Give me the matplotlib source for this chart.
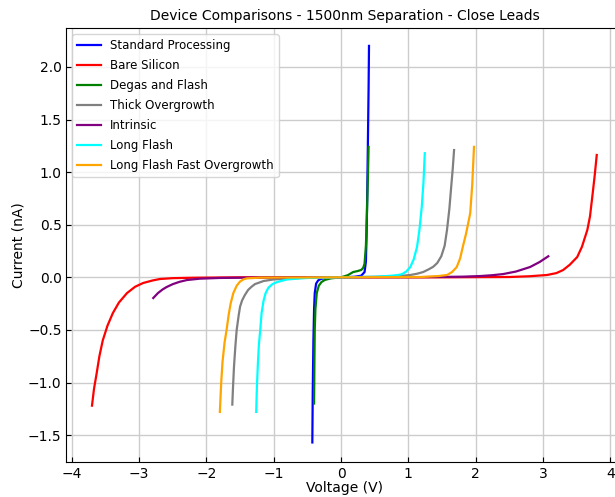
import matplotlib
matplotlib.use("Agg")
import matplotlib.pyplot as plt

# I-V curves (voltage in V, current in nA)
std_v = [-0.426, -0.42, -0.41, -0.40, -0.39, -0.37, -0.34, -0.3, -0.2, 0.0,
         0.2, 0.3, 0.35, 0.37, 0.38, 0.39, 0.40, 0.41, 0.416]
std_i = [-1.57, -1.1, -0.6, -0.3, -0.15, -0.06, -0.03, -0.015, -0.005, 0.0,
         0.005, 0.015, 0.05, 0.15, 0.4, 0.8, 1.3, 1.8, 2.2]

bare_v = [-3.70, -3.67, -3.63, -3.59, -3.54, -3.47, -3.39, -3.30, -3.18, -3.06, -2.94, -2.8,
          -2.69, -2.5, -2.2, -1.5, 0.0, 1.5, 2.5, 2.8, 3.06, 3.2, 3.30, 3.40, 3.51, 3.58,
          3.66, 3.70, 3.74, 3.77, 3.80]
bare_i = [-1.22, -1.06, -0.91, -0.75, -0.60, -0.46, -0.34, -0.24, -0.15, -0.09, -0.054, -0.03,
          -0.016, -0.008, -0.004, 0.0, 0.0, 0.0, 0.003, 0.01, 0.022, 0.04, 0.069, 0.12, 0.193,
          0.29, 0.45, 0.58, 0.80, 0.97, 1.163]

degas_v = [-0.40, -0.395, -0.39, -0.38, -0.36, -0.33, -0.29, -0.24, -0.15, 0.0, 0.1, 0.18,
           0.25, 0.30, 0.33, 0.35, 0.37, 0.385, 0.40, 0.41]
degas_i = [-1.20, -0.8, -0.5, -0.3, -0.15, -0.08, -0.045, -0.025, -0.01, 0.0, 0.02, 0.05,
           0.06, 0.07, 0.09, 0.13, 0.3, 0.6, 0.95, 1.24]

thick_v = [-1.615, -1.605, -1.59, -1.57, -1.55, -1.52, -1.50, -1.47, -1.43, -1.38, -1.33, -1.28,
           -1.15, -1.0, -0.6, 0.0, 0.6, 0.9, 1.03, 1.13, 1.22, 1.30, 1.37, 1.43, 1.49, 1.54,
           1.575, 1.61, 1.64, 1.66, 1.68]
thick_i = [-1.21, -1.05, -0.85, -0.66, -0.5, -0.36, -0.28, -0.22, -0.17, -0.12, -0.09, -0.065,
           -0.035, -0.02, -0.006, 0.0, 0.006, 0.014, 0.022, 0.034, 0.05, 0.075, 0.10, 0.136, 0.2,
           0.3, 0.45, 0.65, 0.88, 1.03, 1.21]

intr_v = [-2.79, -2.72, -2.65, -2.59, -2.5, -2.4, -2.29, -2.1, -1.8, -1.2, 0.0, 1.2, 1.8,
          2.07, 2.25, 2.41, 2.6, 2.81, 2.95, 3.08]
intr_i = [-0.197, -0.15, -0.115, -0.092, -0.065, -0.043, -0.026, -0.013, -0.006, -0.002, 0.0,
          0.002, 0.006, 0.012, 0.02, 0.031, 0.055, 0.098, 0.145, 0.20]

long_v = [-1.26, -1.25, -1.235, -1.22, -1.20, -1.18, -1.15, -1.12, -1.08, -1.02, -0.95, -0.8,
          -0.5, 0.0, 0.5, 0.75, 0.85, 0.91, 0.97, 1.03, 1.08, 1.13, 1.165, 1.20, 1.225, 1.245]
long_i = [-1.28, -1.05, -0.82, -0.64, -0.50, -0.34, -0.22, -0.15, -0.10, -0.065, -0.045, -0.02,
          -0.006, 0.0, 0.005, 0.015, 0.022, 0.031, 0.055, 0.098, 0.17, 0.29, 0.45, 0.67, 0.9, 1.18]

fast_v = [-1.80, -1.78, -1.76, -1.73, -1.70, -1.67, -1.64, -1.60, -1.55, -1.50, -1.45, -1.40,
          -1.2, 0.0, 1.2, 1.45, 1.575, 1.65, 1.72, 1.77, 1.81, 1.86, 1.92, 1.95, 1.976]
fast_i = [-1.28, -1.0, -0.8, -0.62, -0.5, -0.36, -0.25, -0.15, -0.08, -0.04, -0.02, -0.01,
          -0.003, 0.0, 0.003, 0.012, 0.022, 0.05, 0.098, 0.18, 0.29, 0.42, 0.61, 0.88, 1.24]

series = [
    ("Standard Processing", std_v, std_i, "blue"),
    ("Bare Silicon", bare_v, bare_i, "red"),
    ("Degas and Flash", degas_v, degas_i, "green"),
    ("Thick Overgrowth", thick_v, thick_i, "gray"),
    ("Intrinsic", intr_v, intr_i, "purple"),
    ("Long Flash", long_v, long_i, "cyan"),
    ("Long Flash Fast Overgrowth", fast_v, fast_i, "orange"),
]

fig = plt.figure(figsize=(6.15, 4.97), dpi=100)
ax = fig.add_axes([0.1081, 0.0710, 0.9038, 0.8720])

for label, v, i, color in series:
    ax.plot(v, i, color=color, lw=1.6, label=label)

ax.set_xlim(-4.079, 4.18)
ax.set_ylim(-1.753, 2.367)
ax.set_xticks([-4, -3, -2, -1, 0, 1, 2, 3, 4])
ax.set_yticks([-1.5, -1.0, -0.5, 0.0, 0.5, 1.0, 1.5, 2.0])
ax.grid(True, color="#cccccc", lw=1.0)
ax.tick_params(direction="in", labelsize=10)

ax.set_title("Device Comparisons - 1500nm Separation - Close Leads", fontsize=10)
ax.set_xlabel("Voltage (V)", fontsize=10, labelpad=0.5)
ax.set_ylabel("Current (nA)", fontsize=10, labelpad=2)
ax.legend(loc="upper left", fontsize=8.5, labelspacing=0.6)

fig.savefig("out.png", dpi=100)
